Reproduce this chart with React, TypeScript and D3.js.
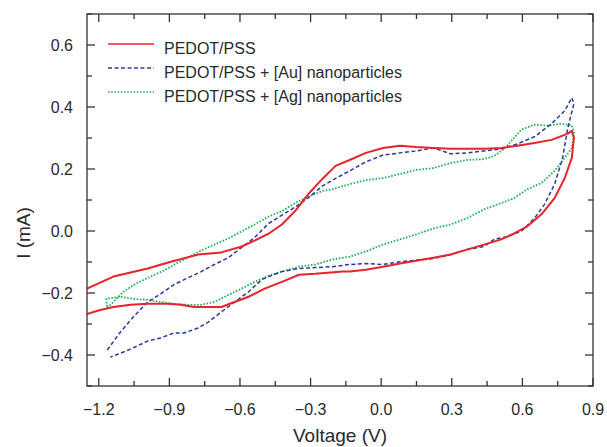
import React from 'react';
import * as d3 from 'd3';

const xTicks = [-1.2, -0.9, -0.6, -0.3, 0.0, 0.3, 0.6, 0.9];
const xMinorTicks = [-1.05, -0.75, -0.45, -0.15, 0.15, 0.45, 0.75];
const yTicks = [-0.4, -0.2, 0.0, 0.2, 0.4, 0.6];
const yMinorTicks = [-0.5, -0.3, -0.1, 0.1, 0.3, 0.5, 0.7];
const seriesNames = ['PEDOT/PSS', 'PEDOT/PSS + [Au] nanoparticles', 'PEDOT/PSS + [Ag] nanoparticles'];

// PEDOT/PSS: [V, I(mA)]
const pedotLoop: [number, number][] = [
  [-1.25, -0.186], [-1.138, -0.147], [-0.992, -0.121], [-0.894, -0.099], [-0.778, -0.076],
  [-0.679, -0.069], [-0.593, -0.05], [-0.538, -0.031], [-0.477, -0.008], [-0.422, 0.021],
  [-0.366, 0.064], [-0.306, 0.122], [-0.25, 0.168], [-0.194, 0.21], [-0.134, 0.229],
  [-0.065, 0.252], [0.008, 0.268], [0.08, 0.275], [0.149, 0.271], [0.222, 0.268],
  [0.295, 0.265], [0.364, 0.265], [0.437, 0.265], [0.51, 0.268], [0.578, 0.275],
  [0.651, 0.284], [0.724, 0.294], [0.793, 0.314], [0.81, 0.323],
  [0.819, 0.301], [0.81, 0.236], [0.78, 0.171], [0.737, 0.106], [0.681, 0.054],
  [0.621, 0.015], [0.565, -0.008], [0.51, -0.027], [0.437, -0.044], [0.364, -0.06],
  [0.295, -0.076], [0.222, -0.086], [0.08, -0.105], [0.008, -0.115], [-0.065, -0.125],
  [-0.134, -0.131], [-0.164, -0.131], [-0.28, -0.138], [-0.349, -0.141], [-0.422, -0.164],
  [-0.495, -0.186], [-0.563, -0.212], [-0.623, -0.229], [-0.679, -0.245], [-0.735, -0.245],
  [-0.795, -0.245], [-0.851, -0.238], [-0.907, -0.235], [-0.992, -0.235], [-1.065, -0.238],
  [-1.138, -0.245], [-1.194, -0.255], [-1.25, -0.268],
];

// PEDOT/PSS + [Au] nanoparticles
const auLoop: [number, number][] = [
  [-1.164, -0.384], [-1.108, -0.326], [-1.053, -0.277], [-0.992, -0.229], [-0.937, -0.203],
  [-0.881, -0.173], [-0.821, -0.151], [-0.765, -0.131], [-0.709, -0.108], [-0.649, -0.086],
  [-0.593, -0.053], [-0.538, -0.021], [-0.477, 0.025], [-0.422, 0.051], [-0.366, 0.077],
  [-0.306, 0.109], [-0.25, 0.145], [-0.207, 0.164], [-0.134, 0.194], [-0.065, 0.223],
  [0.008, 0.245], [0.08, 0.252], [0.149, 0.258], [0.222, 0.268], [0.295, 0.249],
  [0.364, 0.252], [0.437, 0.258], [0.51, 0.265], [0.578, 0.281], [0.651, 0.304],
  [0.724, 0.346], [0.78, 0.388], [0.81, 0.43],
  [0.819, 0.411], [0.793, 0.333], [0.771, 0.236], [0.737, 0.151], [0.694, 0.086],
  [0.651, 0.041], [0.596, -0.001], [0.535, -0.018], [0.48, -0.027], [0.437, -0.05],
  [0.364, -0.06], [0.295, -0.076], [0.222, -0.089], [0.08, -0.099], [0.008, -0.108],
  [-0.065, -0.105], [-0.134, -0.108], [-0.207, -0.115], [-0.28, -0.118], [-0.349, -0.121],
  [-0.422, -0.131], [-0.477, -0.147], [-0.508, -0.157], [-0.563, -0.196], [-0.623, -0.229],
  [-0.679, -0.261], [-0.735, -0.294], [-0.778, -0.313], [-0.838, -0.329], [-0.881, -0.329],
  [-0.937, -0.345], [-0.992, -0.355], [-1.065, -0.381], [-1.117, -0.397], [-1.151, -0.407],
];

// PEDOT/PSS + [Ag] nanoparticles
const agLoop: [number, number][] = [
  [-1.164, -0.248], [-1.138, -0.229], [-1.095, -0.196], [-1.044, -0.17], [-0.98, -0.147],
  [-0.924, -0.128], [-0.872, -0.105], [-0.821, -0.086], [-0.765, -0.063], [-0.709, -0.044],
  [-0.649, -0.024], [-0.593, -0.001], [-0.538, 0.021], [-0.477, 0.047], [-0.422, 0.064],
  [-0.366, 0.09], [-0.306, 0.112], [-0.25, 0.129], [-0.207, 0.135], [-0.134, 0.151],
  [-0.065, 0.164], [0.008, 0.171], [0.08, 0.184], [0.149, 0.197], [0.222, 0.203],
  [0.295, 0.219], [0.364, 0.229], [0.437, 0.232], [0.48, 0.242], [0.523, 0.265],
  [0.565, 0.301], [0.596, 0.327], [0.651, 0.343], [0.707, 0.34], [0.767, 0.346],
  [0.81, 0.34], [0.819, 0.317],
  [0.81, 0.268], [0.78, 0.236], [0.737, 0.194], [0.681, 0.155], [0.621, 0.135],
  [0.565, 0.106], [0.51, 0.09], [0.437, 0.07], [0.364, 0.041], [0.295, 0.021],
  [0.222, 0.008], [0.149, -0.011], [0.08, -0.027], [0.008, -0.044], [-0.065, -0.066],
  [-0.134, -0.083], [-0.207, -0.092], [-0.28, -0.108], [-0.349, -0.115], [-0.422, -0.131],
  [-0.477, -0.144], [-0.538, -0.164], [-0.593, -0.186], [-0.649, -0.206], [-0.709, -0.229],
  [-0.765, -0.238], [-0.821, -0.238], [-0.881, -0.235], [-0.937, -0.229], [-0.992, -0.222],
  [-1.053, -0.219], [-1.108, -0.212], [-1.168, -0.219], [-1.164, -0.248],
];

const FONT = '"Liberation Sans", Arial, Helvetica, sans-serif';
const TEXT = '#2a2a2a';
const AXIS = '#333';

const fmt = (v: number) => {
  const s = Math.abs(v).toFixed(1);
  return v < -1e-9 ? '\u2212' + s : s;
};

export default function App() {
  const W = 607, H = 447;
  const L = 87, R = 593, T = 14, B = 386;
  const x = d3.scaleLinear().domain([-1.25, 0.9]).range([L, R]);
  const y = d3.scaleLinear().domain([-0.5, 0.7]).range([B, T]);
  const line = d3.line<[number, number]>().x(d => x(d[0])).y(d => y(d[1])).curve(d3.curveLinear);

  const series = [
    { name: seriesNames[0], data: pedotLoop, color: '#e8232d', width: 2, dash: undefined as string | undefined },
    { name: seriesNames[1], data: auLoop, color: '#2b3a99', width: 1.5, dash: '4,2.5' },
    { name: seriesNames[2], data: agLoop, color: '#22b05a', width: 1.8, dash: '1.6,1.6' },
  ];
  const drawOrder = [2, 1, 0];

  return (
    <svg width={W} height={H} style={{ position: 'absolute', left: 0, top: 0, background: '#fff' }}
      fontFamily={FONT}>
      <defs>
        <clipPath id="plotclip">
          <rect x={L} y={T} width={R - L} height={B - T} />
        </clipPath>
      </defs>
      <g clipPath="url(#plotclip)">
        {drawOrder.map(i => {
          const s = series[i];
          return (
            <path key={i} d={line(s.data) || ''} fill="none" stroke={s.color} strokeWidth={s.width}
              strokeDasharray={s.dash} strokeLinejoin="round" />
          );
        })}
      </g>
      {/* frame */}
      <rect x={L} y={T} width={R - L} height={B - T} fill="none" stroke={AXIS} strokeWidth={1.3} />
      {/* x ticks */}
      {xTicks.map(t => (
        <g key={'xt' + t}>
          <line x1={x(t)} x2={x(t)} y1={B} y2={B - 8} stroke={AXIS} strokeWidth={1.3} />
          <line x1={x(t)} x2={x(t)} y1={T} y2={T + 8} stroke={AXIS} strokeWidth={1.3} />
          <text x={x(t)} y={415} textAnchor="middle" fontSize={16} fill={TEXT}>{fmt(t)}</text>
        </g>
      ))}
      {xMinorTicks.map(t => (
        <g key={'xm' + t}>
          <line x1={x(t)} x2={x(t)} y1={B} y2={B - 5} stroke={AXIS} strokeWidth={1.3} />
          <line x1={x(t)} x2={x(t)} y1={T} y2={T + 5} stroke={AXIS} strokeWidth={1.3} />
        </g>
      ))}
      {yTicks.map(t => (
        <g key={'yt' + t}>
          <line x1={L} x2={L + 8} y1={y(t)} y2={y(t)} stroke={AXIS} strokeWidth={1.3} />
          <line x1={R} x2={R - 8} y1={y(t)} y2={y(t)} stroke={AXIS} strokeWidth={1.3} />
          <text x={73} y={y(t) + 6} textAnchor="end" fontSize={16} fill={TEXT}>{fmt(t)}</text>
        </g>
      ))}
      {yMinorTicks.map(t => (
        <g key={'ym' + t}>
          <line x1={L} x2={L + 5} y1={y(t)} y2={y(t)} stroke={AXIS} strokeWidth={1.3} />
          <line x1={R} x2={R - 5} y1={y(t)} y2={y(t)} stroke={AXIS} strokeWidth={1.3} />
        </g>
      ))}
      {/* axis titles */}
      <text x={(L + R) / 2} y={442} textAnchor="middle" fontSize={19} fill={TEXT}>Voltage (V)</text>
      <text transform={`translate(30, 233) rotate(-90)`} textAnchor="middle" fontSize={19} fill={TEXT}>I (mA)</text>
      {/* legend */}
      {series.map((s, i) => {
        const ly = 44 + i * 24;
        return (
          <g key={'lg' + i}>
            <line x1={108} x2={154} y1={ly} y2={ly} stroke={s.color} strokeWidth={s.width === 2 ? 1.6 : 1.4}
              strokeDasharray={s.dash} />
            <text x={164} y={ly + 10} fontSize={16} fill={TEXT}>{s.name}</text>
          </g>
        );
      })}
    </svg>
  );
}
